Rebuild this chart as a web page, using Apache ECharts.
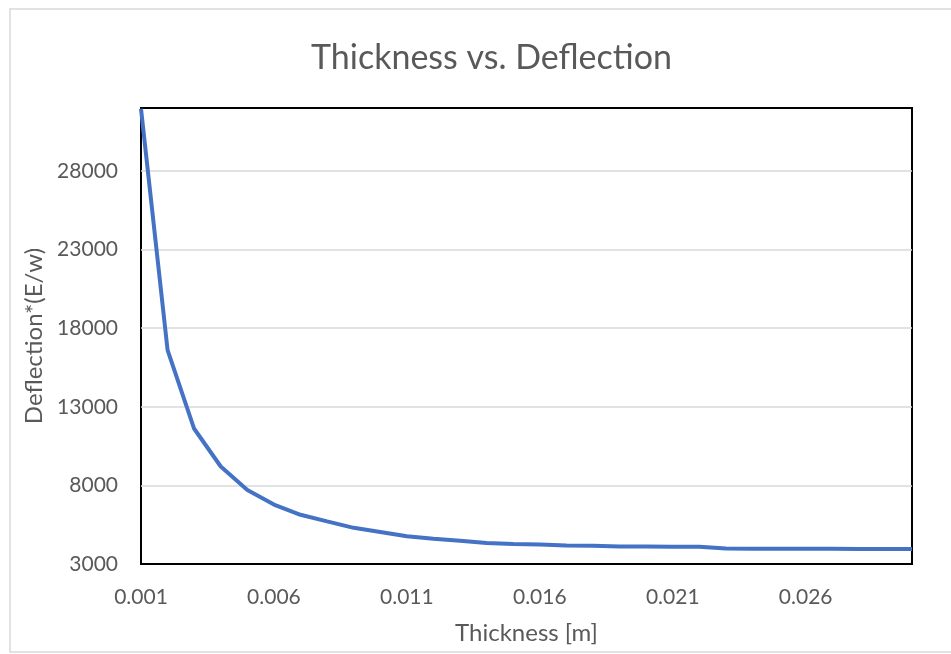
<!DOCTYPE html>
<html>
<head>
<meta charset="utf-8">
<script src="https://cdn.jsdelivr.net/npm/echarts@6/dist/echarts.min.js"></script>
<style>
html,body{margin:0;padding:0;background:#fff;}
#chart{width:951px;height:654px;}
</style>
</head>
<body>
<div id="chart"></div>
<script>
const thickness = [0.001,0.002,0.003,0.004,0.005,0.006,0.007,0.008,0.009,0.010,
  0.011,0.012,0.013,0.014,0.015,0.016,0.017,0.018,0.019,0.020,
  0.021,0.022,0.023,0.024,0.025,0.026,0.027,0.028,0.029,0.030];
const deflection = [31950,16600,11600,9200,7700,6780,6130,5710,5300,5040,
  4760,4600,4480,4340,4270,4240,4180,4160,4120,4110,
  4100,4090,3980,3970,3970,3965,3965,3960,3960,3960];
const titleText = 'Thickness vs. Deflection';
const xName = 'Thickness [m]';
const yName = 'Deflection*(E/w)';

const FONT = 'Lato, "Open Sans", sans-serif';
const chart = echarts.init(document.getElementById('chart'), null, {renderer:'canvas'});
chart.setOption({
  animation:false,
  backgroundColor:'#fff',
  graphic:[{type:'rect',shape:{x:10,y:9,width:960,height:643},style:{fill:'none',stroke:'#d9d9d9',lineWidth:1.5},silent:true}],
  title:{text:titleText,left:306,top:36,textStyle:{fontFamily:FONT,fontSize:34,fontWeight:'normal',color:'#595959'}},
  grid:{left:141,right:39,top:108,bottom:90,show:true,borderColor:'#000',borderWidth:2,backgroundColor:'transparent'},
  xAxis:{type:'value',min:0.001,max:0.030,interval:0.005,
    name:xName,nameLocation:'middle',nameGap:57,
    nameTextStyle:{fontFamily:FONT,fontSize:24,color:'#595959'},
    axisLine:{show:false},axisTick:{show:false},splitLine:{show:false},
    axisLabel:{margin:23,fontFamily:FONT,fontSize:21,color:'#595959',showMaxLabel:false,
      formatter:v=>v.toFixed(3)}},
  yAxis:{type:'value',min:3000,max:32000,interval:5000,
    name:yName,nameLocation:'middle',nameGap:93,
    nameTextStyle:{fontFamily:FONT,fontSize:24,color:'#595959'},
    axisLine:{show:false},axisTick:{show:false},
    splitLine:{show:true,showMinLine:false,showMaxLine:false,lineStyle:{color:'#d9d9d9',width:1.5}},
    axisLabel:{margin:23,fontFamily:FONT,fontSize:21,color:'#595959',showMaxLabel:false,
      formatter:v=>String(v)}},
  series:[{type:'line',data:thickness.map((t,i)=>[t,deflection[i]]),
    showSymbol:false,smooth:false,lineStyle:{color:'#4472C4',width:4},itemStyle:{color:'#4472C4'}}]
});
</script>
</body>
</html>
